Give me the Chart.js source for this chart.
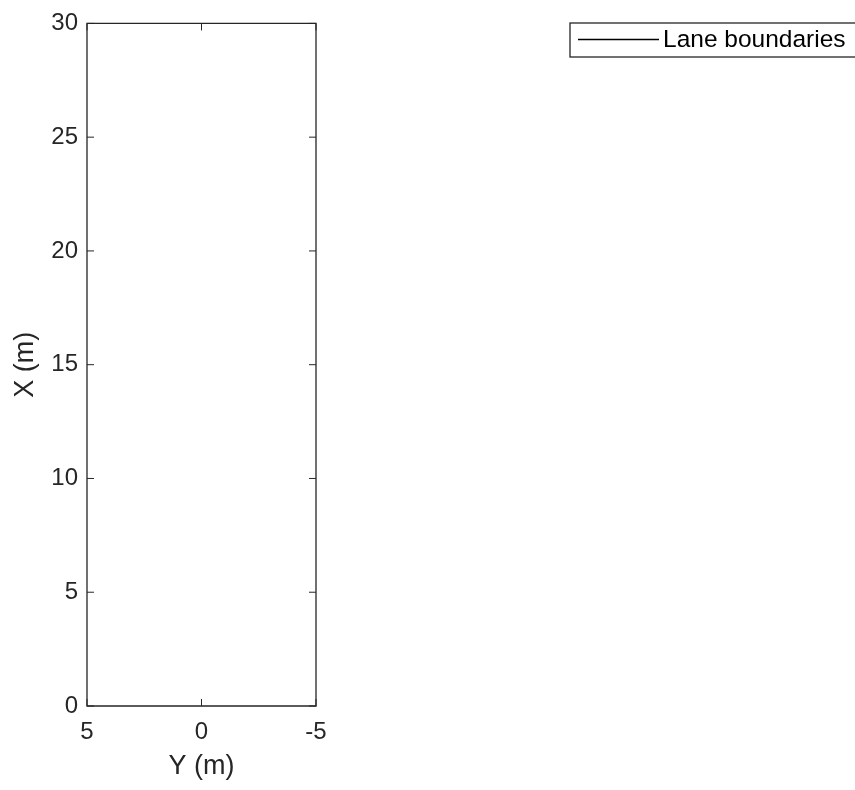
<!DOCTYPE html>
<html>
<head>
<meta charset="utf-8">
<script src="https://cdn.jsdelivr.net/npm/chart.js@4.4.0/dist/chart.umd.min.js"></script>
<style>
html,body{margin:0;padding:0;background:#fff;}
#wrap{width:855px;height:790px;position:relative;}
</style>
</head>
<body>
<div id="wrap"><canvas id="c"></canvas></div>
<script>
// Data (the lane boundary series is empty in the reference plot)
const seriesName = "Lane boundaries";
const laneBoundaryPoints = [];
const xTickValues = [5, 0, -5];
const yTickValues = [0, 5, 10, 15, 20, 25, 30];
const xAxisTitle = "Y (m)";
const yAxisTitle = "X (m)";

const AX = '#262626';
const FONT = "'Liberation Sans', Arial, sans-serif";

const boxTicks = {
  id: 'boxTicks',
  afterDraw(chart) {
    const {ctx, chartArea: a, scales} = chart;
    const tl = 7;
    ctx.save();
    ctx.strokeStyle = AX;
    ctx.lineWidth = 1.3;
    ctx.beginPath();
    ctx.rect(a.left, a.top, a.right - a.left, a.bottom - a.top);
    ctx.stroke();
    ctx.lineWidth = 1;
    ctx.beginPath();
    xTickValues.forEach(v => {
      const px = scales.x.getPixelForValue(v);
      ctx.moveTo(px, a.bottom); ctx.lineTo(px, a.bottom - tl);
      ctx.moveTo(px, a.top); ctx.lineTo(px, a.top + tl);
    });
    yTickValues.forEach(v => {
      const py = scales.y.getPixelForValue(v);
      ctx.moveTo(a.left, py); ctx.lineTo(a.left + tl, py);
      ctx.moveTo(a.right, py); ctx.lineTo(a.right - tl, py);
    });
    ctx.stroke();
    // legend
    const ds = chart.data.datasets[0];
    ctx.strokeStyle = AX;
    ctx.lineWidth = 1.3;
    ctx.fillStyle = '#fff';
    ctx.fillRect(570, 23, 300, 34);
    ctx.strokeRect(570, 23, 300, 34);
    ctx.strokeStyle = ds.borderColor;
    ctx.lineWidth = 1.3;
    ctx.beginPath();
    ctx.moveTo(578, 39.5); ctx.lineTo(659, 39.5);
    ctx.stroke();
    ctx.fillStyle = '#000';
    ctx.font = "24.5px " + FONT;
    ctx.textBaseline = 'middle';
    ctx.textAlign = 'left';
    ctx.fillText(ds.label, 663, 40.5);
    ctx.restore();
  }
};

new Chart(document.getElementById('c'), {
  type: 'scatter',
  data: {
    datasets: [{
      label: seriesName,
      data: laneBoundaryPoints,
      showLine: true,
      borderColor: '#000',
      borderWidth: 1,
      pointRadius: 0
    }]
  },
  options: {
    responsive: true,
    maintainAspectRatio: false,
    animation: false,
    layout: {padding: {top: 21, right: 539, left: 0, bottom: 0}},
    plugins: {legend: {display: false}, tooltip: {enabled: false}},
    scales: {
      x: {
        type: 'linear', min: -5, max: 5, reverse: true,
        afterFit(s) { s.height = 84; },
        afterBuildTicks(s) { s.ticks = xTickValues.map(v => ({value: v})); },
        grid: {display: false, drawTicks: false},
        border: {display: false},
        ticks: {color: AX, font: {family: FONT, size: 24}, padding: 12,
                callback: v => String(v)},
        title: {display: true, text: xAxisTitle, color: AX,
                font: {family: FONT, size: 27}, padding: {top: 0, bottom: 7}}
      },
      y: {
        type: 'linear', min: 0, max: 30,
        afterFit(s) { s.width = 87; },
        afterBuildTicks(s) { s.ticks = yTickValues.map(v => ({value: v})); },
        grid: {display: false, drawTicks: false},
        border: {display: false},
        ticks: {color: AX, font: {family: FONT, size: 24}, padding: 9,
                callback: v => String(v)},
        title: {display: true, text: yAxisTitle, color: AX,
                font: {family: FONT, size: 27}, padding: {top: 9, bottom: 0}}
      }
    }
  },
  plugins: [boxTicks]
});
</script>
</body>
</html>
